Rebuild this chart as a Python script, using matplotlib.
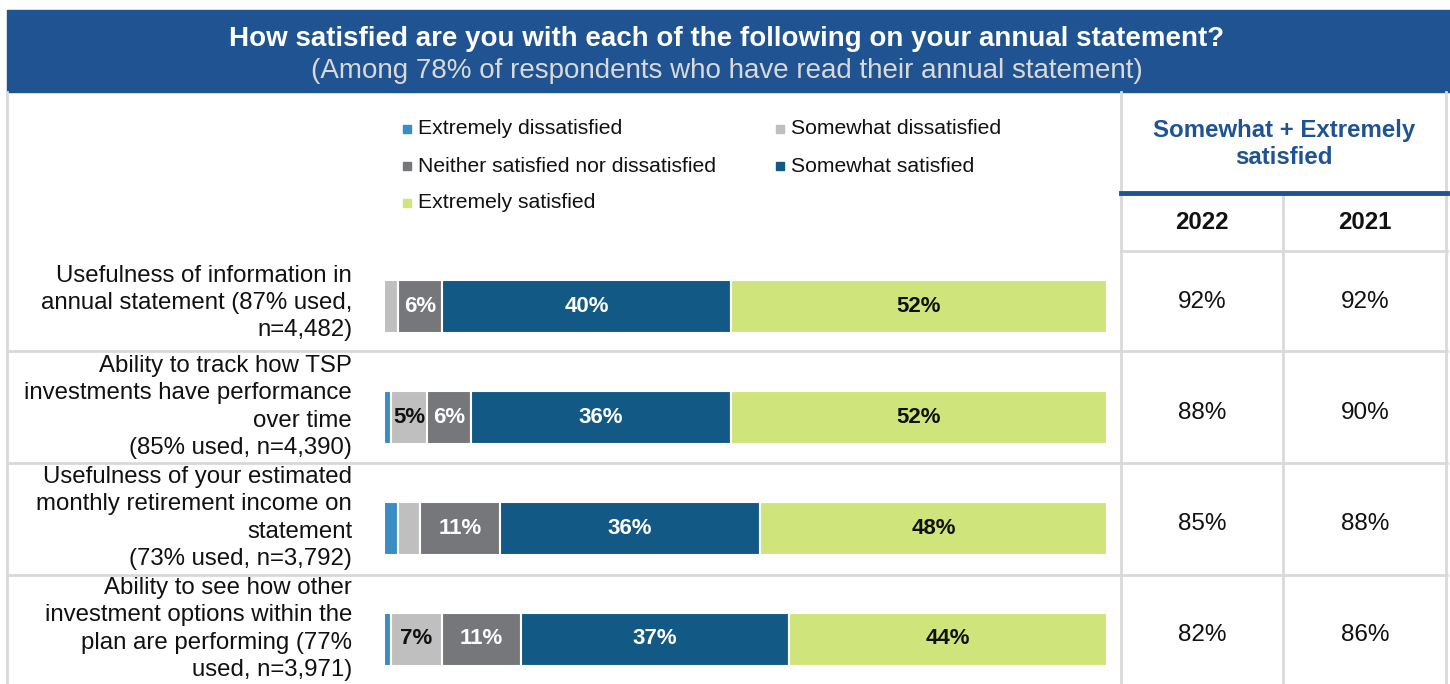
"""Annual statement satisfaction: stacked bars with a side table."""

import matplotlib.pyplot as plt
from matplotlib.lines import Line2D
from matplotlib.patches import Rectangle

W, H = 1450, 684

BANNER = "#1f5391"
BORDER = "#d9d9d9"
DARK = "#111111"

CATEGORIES = [
    "Extremely dissatisfied",
    "Somewhat dissatisfied",
    "Neither satisfied nor dissatisfied",
    "Somewhat satisfied",
    "Extremely satisfied",
]
COLORS = ["#3a8cc4", "#bfbfbf", "#76777b", "#125a85", "#d0e47c"]
TEXT_COLORS = ["white", DARK, "white", "white", DARK]

ITEMS = [
    "Usefulness of information in\nannual statement (87% used,\nn=4,482)",
    "Ability to track how TSP\ninvestments have performance\nover time\n(85% used, n=4,390)",
    "Usefulness of your estimated\nmonthly retirement income on\nstatement\n(73% used, n=3,792)",
    "Ability to see how other\ninvestment options within the\nplan are performing (77%\nused, n=3,971)",
]

extremely_dissatisfied = [0, 1, 2, 1]
somewhat_dissatisfied = [2, 5, 3, 7]
neither = [6, 6, 11, 11]
somewhat_satisfied = [40, 36, 36, 37]
extremely_satisfied = [52, 52, 48, 44]

YEARS = ["2022", "2021"]
top2_2022 = [92, 88, 85, 82]
top2_2021 = [92, 90, 88, 86]


def fx(px):
    return px / W


def fy(py):
    return 1 - py / H


def hline(fig, y, x0, x1, color=BORDER, lw=2.0):
    fig.add_artist(Line2D([fx(x0), fx(x1)], [fy(y), fy(y)], color=color, linewidth=lw,
                          transform=fig.transFigure))


def vline(fig, x, y0, y1, color=BORDER, lw=2.0):
    fig.add_artist(Line2D([fx(x), fx(x)], [fy(y0), fy(y1)], color=color, linewidth=lw,
                          transform=fig.transFigure))


def main():
    plt.rcParams["font.family"] = ["Liberation Sans", "DejaVu Sans"]
    fig = plt.figure(figsize=(W / 100, H / 100), dpi=100)

    # banner
    fig.add_artist(Rectangle((fx(7), fy(92)), fx(W - 7), fy(10) - fy(92), color=BANNER,
                             transform=fig.transFigure, zorder=0))
    fig.text(fx(727), fy(39), "How satisfied are you with each of the following on your annual statement?",
             ha="center", va="center", color="white", fontsize=20, fontweight="bold")
    fig.text(fx(727), fy(71), "(Among 78% of respondents who have read their annual statement)",
             ha="center", va="center", color="#d9d9d9", fontsize=20)

    # table grid
    vline(fig, 7, 92, H)
    vline(fig, 1446, 92, H)
    vline(fig, 1121, 92, H)
    vline(fig, 1283, 195, H)
    hline(fig, 193, 1121, 1447, color=BANNER, lw=3.5)
    hline(fig, 251, 1121, 1447)
    for y in (351, 463, 575):
        hline(fig, y, 7, 1447)

    # legend (two columns, filled row by row)
    leg_x = [405, 778]
    leg_y = [129, 166, 203]
    for k, (name, color) in enumerate(zip(CATEGORIES, COLORS)):
        x, y = leg_x[k % 2], leg_y[k // 2]
        fig.add_artist(Rectangle((fx(x - 2), fy(y + 4)), fx(8), fy(0) - fy(8), color=color,
                                 transform=fig.transFigure))
        fig.text(fx(x + 13), fy(y), name, ha="left", va="center", fontsize=15.2, color=DARK)

    # table header
    fig.text(fx(1284), fy(144), "Somewhat + Extremely\nsatisfied", ha="center", va="center",
             fontsize=17.3, fontweight="bold", color=BANNER, linespacing=1.22)
    for x, year in zip([1202, 1365], YEARS):
        fig.text(fx(x), fy(223), year, ha="center", va="center", fontsize=17.3,
                 fontweight="bold", color=DARK)

    # stacked bars
    ax = fig.add_axes([fx(384), 0, fx(723), fy(250.5)])
    row_px = 111
    ax.set_xlim(0, 100)
    ax.set_ylim((H - 250.5) / row_px - 0.5, -0.5)
    ax.axis("off")

    series = [extremely_dissatisfied, somewhat_dissatisfied, neither,
              somewhat_satisfied, extremely_satisfied]
    rows = range(len(ITEMS))
    left = [0] * len(ITEMS)
    for vals, color, tcolor in zip(series, COLORS, TEXT_COLORS):
        ax.barh(list(rows), vals, left=left, height=53 / row_px, color=color,
                edgecolor="white", linewidth=1.5)
        for i, v in enumerate(vals):
            if v >= 5:
                ax.text(left[i] + v / 2, i, f"{v}%", ha="center", va="center",
                        fontsize=16, fontweight="bold", color=tcolor)
        left = [a + b for a, b in zip(left, vals)]

    # row labels and table values
    for i, label in enumerate(ITEMS):
        shift = -0.03 if label.count("\n") == 2 else -0.09
        ax.text(-4.4, i + shift, label, ha="right", va="center", fontsize=17.3,
                color=DARK, linespacing=1.3)
        for x, vals in zip([1202, 1365], [top2_2022, top2_2021]):
            ax.text(100 + (x - 1107) / 7.23, i - 0.04, f"{vals[i]}%", ha="center",
                    va="center", fontsize=17.5, color=DARK, clip_on=False)

    fig.savefig("out.png", dpi=100)


if __name__ == "__main__":
    main()
